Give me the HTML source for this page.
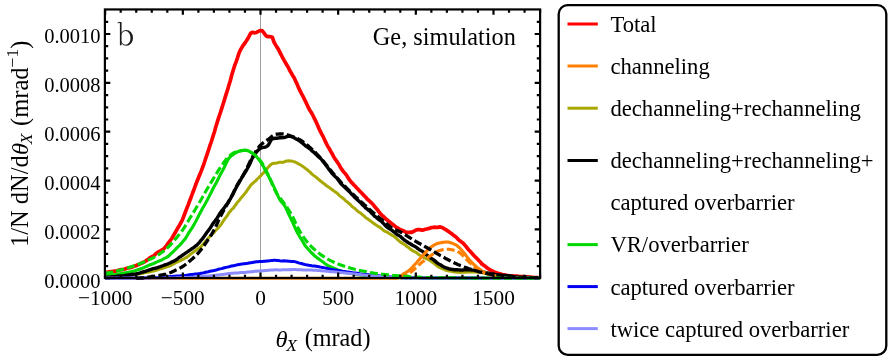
<!DOCTYPE html>
<html><head><meta charset="utf-8"><title>chart</title>
<style>html,body{margin:0;padding:0;background:#fff;overflow:hidden;}svg{display:block;will-change:transform;-webkit-font-smoothing:antialiased;}text{font-family:"Liberation Serif",serif;}</style></head>
<body>
<svg width="891" height="361" viewBox="0 0 891 361">
<rect width="891" height="361" fill="#fff"/>
<defs><clipPath id="c"><rect x="104" y="9" width="437" height="271.5"/></clipPath></defs>
<line x1="260.5" y1="9.45" x2="260.5" y2="278.0" stroke="#888" stroke-width="0.8"/>
<g clip-path="url(#c)" fill="none" stroke-linejoin="round" stroke-linecap="butt">
<path d="M105.2,272.6 L106.6,272.4 L108.1,272.0 L109.5,271.8 L111.0,271.6 L112.4,271.5 L113.9,271.2 L115.4,271.1 L116.8,270.8 L118.3,270.4 L119.7,269.9 L121.2,269.7 L122.6,269.6 L124.1,269.3 L125.5,268.8 L127.0,268.2 L128.4,267.9 L129.9,267.7 L131.4,267.3 L132.8,266.8 L134.3,266.1 L135.7,265.8 L137.2,265.0 L138.6,264.5 L140.1,263.9 L141.5,263.3 L143.0,262.5 L144.4,261.8 L145.9,260.9 L147.4,259.9 L148.8,258.7 L150.3,257.6 L151.7,256.8 L153.2,256.1 L154.6,255.0 L156.1,253.5 L157.5,252.5 L159.0,251.5 L160.4,251.1 L161.9,249.9 L163.4,249.2 L164.8,247.7 L166.3,245.8 L167.7,243.9 L169.2,241.9 L170.6,240.0 L172.1,238.0 L173.5,235.5 L175.0,233.1 L176.4,230.4 L177.9,227.8 L179.4,225.4 L180.8,222.8 L182.3,220.1 L183.7,216.5 L185.2,212.5 L186.6,208.8 L188.1,205.1 L189.5,201.3 L191.0,197.5 L192.4,193.5 L193.9,189.8 L195.4,185.5 L196.8,181.8 L198.3,178.2 L199.7,174.7 L201.2,171.1 L202.6,167.3 L204.1,163.3 L205.5,159.0 L207.0,154.6 L208.4,150.4 L209.9,145.7 L211.4,141.5 L212.8,136.9 L214.3,132.3 L215.7,127.3 L217.2,122.4 L218.6,117.9 L220.1,113.5 L221.5,109.1 L223.0,104.5 L224.4,99.9 L225.9,94.9 L227.4,90.4 L228.8,85.5 L230.3,80.8 L231.7,75.3 L233.2,70.3 L234.6,65.7 L236.1,61.8 L237.5,57.8 L239.0,53.1 L240.4,50.0 L241.9,47.5 L243.4,45.1 L244.8,43.1 L246.3,41.0 L247.7,38.8 L249.2,36.0 L250.6,33.3 L252.1,32.4 L253.5,32.6 L255.0,32.8 L256.4,32.5 L257.9,31.6 L259.4,30.9 L260.8,30.5 L262.3,30.9 L263.7,32.6 L265.2,34.7 L266.6,36.3 L268.1,36.7 L269.5,36.5 L271.0,36.9 L272.4,37.3 L273.9,41.8 L275.4,44.6 L276.8,46.9 L278.3,49.1 L279.7,51.9 L281.2,54.8 L282.6,57.7 L284.1,60.4 L285.5,62.7 L287.0,65.2 L288.4,67.6 L289.9,70.8 L291.4,73.2 L292.8,75.8 L294.3,78.1 L295.7,81.2 L297.2,84.4 L298.6,87.9 L300.1,90.9 L301.5,93.7 L303.0,96.3 L304.4,99.2 L305.9,102.2 L307.4,105.5 L308.8,108.5 L310.3,111.0 L311.7,113.1 L313.2,116.0 L314.6,118.9 L316.1,121.9 L317.5,125.1 L319.0,128.7 L320.5,131.7 L321.9,134.4 L323.4,137.1 L324.8,140.4 L326.3,143.4 L327.7,146.3 L329.2,148.5 L330.6,151.1 L332.1,153.7 L333.5,156.4 L335.0,158.9 L336.5,160.9 L337.9,163.0 L339.4,165.3 L340.8,168.0 L342.3,170.1 L343.7,172.0 L345.2,173.5 L346.6,175.4 L348.1,177.9 L349.5,179.9 L351.0,181.9 L352.5,183.3 L353.9,185.0 L355.4,186.4 L356.8,188.0 L358.3,189.5 L359.7,191.1 L361.2,192.5 L362.6,194.0 L364.1,195.7 L365.5,197.0 L367.0,198.8 L368.5,200.2 L369.9,201.4 L371.4,202.8 L372.8,204.2 L374.3,206.1 L375.7,207.8 L377.2,209.4 L378.6,211.4 L380.1,213.2 L381.5,214.7 L383.0,216.2 L384.5,217.4 L385.9,219.1 L387.4,220.1 L388.8,221.3 L390.3,222.5 L391.7,223.6 L393.2,224.9 L394.6,225.8 L396.1,227.1 L397.5,227.8 L399.0,229.0 L400.5,229.6 L401.9,230.3 L403.4,230.8 L404.8,231.5 L406.3,232.5 L407.7,232.4 L409.2,232.5 L410.6,232.1 L412.1,232.3 L413.5,231.4 L415.0,230.6 L416.5,229.8 L417.9,229.7 L419.4,229.7 L420.8,229.9 L422.3,230.1 L423.7,229.9 L425.2,229.3 L426.6,229.0 L428.1,228.6 L429.5,228.4 L431.0,227.7 L432.5,227.5 L433.9,227.2 L435.4,227.4 L436.8,227.3 L438.3,227.3 L439.7,226.9 L441.2,227.3 L442.6,227.8 L444.1,228.8 L445.5,229.4 L447.0,230.5 L448.5,231.3 L449.9,232.5 L451.4,233.5 L452.8,234.7 L454.3,235.7 L455.7,236.7 L457.2,238.2 L458.6,239.8 L460.1,240.9 L461.5,242.0 L463.0,243.0 L464.5,244.8 L465.9,246.2 L467.4,248.3 L468.8,250.0 L470.3,251.4 L471.7,253.1 L473.2,254.7 L474.6,256.2 L476.1,257.7 L477.5,259.0 L479.0,260.7 L480.5,262.2 L481.9,264.0 L483.4,265.1 L484.8,266.1 L486.3,267.2 L487.7,268.3 L489.2,269.3 L490.6,270.1 L492.1,270.9 L493.5,271.7 L495.0,272.4 L496.5,272.8 L497.9,273.4 L499.4,273.7 L500.8,274.1 L502.3,274.5 L503.7,274.8 L505.2,275.2 L506.6,275.4 L508.1,275.7 L509.5,275.8 L511.0,275.9 L512.5,276.0 L513.9,276.0 L515.4,276.0 L516.8,276.1 L518.3,276.3 L519.7,276.5 L521.2,276.6 L522.6,276.7 L524.1,276.7 L525.5,276.8 L527.0,276.9 L528.5,277.1 L529.9,277.1 L531.4,277.3 L532.8,277.4 L534.3,277.5 L535.7,277.5 L537.2,277.6 L538.6,277.6 L540.1,277.7" stroke="#ff0000" stroke-width="3.7"/>
<path d="M105.2,277.7 L106.6,277.5 L108.1,277.5 L109.5,277.5 L111.0,277.4 L112.4,277.2 L113.9,277.0 L115.4,276.8 L116.8,276.8 L118.3,276.6 L119.7,276.4 L121.2,276.2 L122.6,276.2 L124.1,276.0 L125.5,275.9 L127.0,275.8 L128.4,275.6 L129.9,275.4 L131.4,275.3 L132.8,275.0 L134.3,274.8 L135.7,274.5 L137.2,274.3 L138.6,274.1 L140.1,273.9 L141.5,273.6 L143.0,273.2 L144.4,272.9 L145.9,272.6 L147.4,272.3 L148.8,272.0 L150.3,271.8 L151.7,271.4 L153.2,271.1 L154.6,270.8 L156.1,270.4 L157.5,269.9 L159.0,269.4 L160.4,268.9 L161.9,268.5 L163.4,268.0 L164.8,267.5 L166.3,267.1 L167.7,266.6 L169.2,266.2 L170.6,265.6 L172.1,264.8 L173.5,264.0 L175.0,263.1 L176.4,262.3 L177.9,261.8 L179.4,261.0 L180.8,260.6 L182.3,259.5 L183.7,259.1 L185.2,257.9 L186.6,257.5 L188.1,256.2 L189.5,255.1 L191.0,253.9 L192.4,252.9 L193.9,251.8 L195.4,250.6 L196.8,249.5 L198.3,248.6 L199.7,247.6 L201.2,246.3 L202.6,244.7 L204.1,243.1 L205.5,241.4 L207.0,239.8 L208.4,238.0 L209.9,236.5 L211.4,235.1 L212.8,233.6 L214.3,232.2 L215.7,230.4 L217.2,229.0 L218.6,227.4 L220.1,225.8 L221.5,223.8 L223.0,221.5 L224.4,219.4 L225.9,217.4 L227.4,215.5 L228.8,213.0 L230.3,211.3 L231.7,209.4 L233.2,208.3 L234.6,206.2 L236.1,204.3 L237.5,202.2 L239.0,200.7 L240.4,198.8 L241.9,197.0 L243.4,195.3 L244.8,193.6 L246.3,191.7 L247.7,189.5 L249.2,187.5 L250.6,185.4 L252.1,183.8 L253.5,182.6 L255.0,181.4 L256.4,179.9 L257.9,178.5 L259.4,177.0 L260.8,175.6 L262.3,174.0 L263.7,172.7 L265.2,171.0 L266.6,169.1 L268.1,167.5 L269.5,165.8 L271.0,164.5 L272.4,163.5 L273.9,163.3 L275.4,163.2 L276.8,163.0 L278.3,162.6 L279.7,162.3 L281.2,162.3 L282.6,162.4 L284.1,162.0 L285.5,161.3 L287.0,160.9 L288.4,160.7 L289.9,161.0 L291.4,161.0 L292.8,161.4 L294.3,161.7 L295.7,162.3 L297.2,163.1 L298.6,163.9 L300.1,164.7 L301.5,165.5 L303.0,166.7 L304.4,167.5 L305.9,168.9 L307.4,169.7 L308.8,171.1 L310.3,172.3 L311.7,173.9 L313.2,175.1 L314.6,176.1 L316.1,177.2 L317.5,178.5 L319.0,179.7 L320.5,181.0 L321.9,182.0 L323.4,183.3 L324.8,184.2 L326.3,185.6 L327.7,186.4 L329.2,187.6 L330.6,188.5 L332.1,189.7 L333.5,190.8 L335.0,191.7 L336.5,192.8 L337.9,193.9 L339.4,195.6 L340.8,196.6 L342.3,197.7 L343.7,198.7 L345.2,200.3 L346.6,201.6 L348.1,202.6 L349.5,204.0 L351.0,205.2 L352.5,206.9 L353.9,207.9 L355.4,209.0 L356.8,210.3 L358.3,211.6 L359.7,212.6 L361.2,213.6 L362.6,214.8 L364.1,216.0 L365.5,217.4 L367.0,218.4 L368.5,219.5 L369.9,220.5 L371.4,221.6 L372.8,222.7 L374.3,223.8 L375.7,224.8 L377.2,225.8 L378.6,226.6 L380.1,227.4 L381.5,228.6 L383.0,230.0 L384.5,231.1 L385.9,231.7 L387.4,232.3 L388.8,233.3 L390.3,234.2 L391.7,235.1 L393.2,235.8 L394.6,236.8 L396.1,238.0 L397.5,239.5 L399.0,240.8 L400.5,242.1 L401.9,242.9 L403.4,243.9 L404.8,244.7 L406.3,246.0 L407.7,247.1 L409.2,248.1 L410.6,249.2 L412.1,250.4 L413.5,251.2 L415.0,251.8 L416.5,252.7 L417.9,253.9 L419.4,255.0 L420.8,255.8 L422.3,256.5 L423.7,257.4 L425.2,258.1 L426.6,258.8 L428.1,259.4 L429.5,260.2 L431.0,261.2 L432.5,262.3 L433.9,263.4 L435.4,264.5 L436.8,265.7 L438.3,266.7 L439.7,267.6 L441.2,268.1 L442.6,268.8 L444.1,269.4 L445.5,270.1 L447.0,270.5 L448.5,270.9 L449.9,271.1 L451.4,271.4 L452.8,271.6 L454.3,272.0 L455.7,272.1 L457.2,272.3 L458.6,272.3 L460.1,272.4 L461.5,272.3 L463.0,272.3 L464.5,272.2 L465.9,272.2 L467.4,272.1 L468.8,272.0 L470.3,272.0 L471.7,272.0 L473.2,272.0 L474.6,272.0 L476.1,272.1 L477.5,272.2 L479.0,272.3 L480.5,272.4 L481.9,272.7 L483.4,273.0 L484.8,273.3 L486.3,273.6 L487.7,274.0 L489.2,274.4 L490.6,274.9 L492.1,275.2 L493.5,275.5 L495.0,275.7 L496.5,275.9 L497.9,276.1 L499.4,276.2 L500.8,276.4 L502.3,276.6 L503.7,276.6 L505.2,276.8 L506.6,276.8 L508.1,276.9 L509.5,276.9 L511.0,277.1 L512.5,277.2 L513.9,277.2 L515.4,277.2 L516.8,277.3 L518.3,277.3 L519.7,277.5 L521.2,277.4 L522.6,277.4 L524.1,277.4 L525.5,277.5 L527.0,277.5 L528.5,277.6 L529.9,277.6 L531.4,277.7 L532.8,277.8 L534.3,277.7 L535.7,277.6 L537.2,277.6 L538.6,277.6 L540.1,277.6" stroke="#a8a800" stroke-width="3.0"/>
<path d="M105.2,275.4 L106.6,275.3 L108.1,275.2 L109.5,275.1 L111.0,274.9 L112.4,274.8 L113.9,274.7 L115.4,274.5 L116.8,274.3 L118.3,274.0 L119.7,273.8 L121.2,273.6 L122.6,273.4 L124.1,273.1 L125.5,272.9 L127.0,272.5 L128.4,272.2 L129.9,271.9 L131.4,271.6 L132.8,271.2 L134.3,270.9 L135.7,270.5 L137.2,270.0 L138.6,269.6 L140.1,269.0 L141.5,268.6 L143.0,268.0 L144.4,267.4 L145.9,266.7 L147.4,266.0 L148.8,265.3 L150.3,264.7 L151.7,264.3 L153.2,263.7 L154.6,263.0 L156.1,262.3 L157.5,261.7 L159.0,261.0 L160.4,260.5 L161.9,259.8 L163.4,259.0 L164.8,258.1 L166.3,257.6 L167.7,256.6 L169.2,255.6 L170.6,254.0 L172.1,252.7 L173.5,251.3 L175.0,249.9 L176.4,248.3 L177.9,246.8 L179.4,245.6 L180.8,243.9 L182.3,242.3 L183.7,240.5 L185.2,238.9 L186.6,236.6 L188.1,233.9 L189.5,231.6 L191.0,229.5 L192.4,227.3 L193.9,224.7 L195.4,222.1 L196.8,219.4 L198.3,216.6 L199.7,213.7 L201.2,211.0 L202.6,208.3 L204.1,205.8 L205.5,203.2 L207.0,200.6 L208.4,197.9 L209.9,194.9 L211.4,192.0 L212.8,189.0 L214.3,186.3 L215.7,183.7 L217.2,181.0 L218.6,178.2 L220.1,175.0 L221.5,172.4 L223.0,169.8 L224.4,167.0 L225.9,163.8 L227.4,160.8 L228.8,158.4 L230.3,156.8 L231.7,155.5 L233.2,154.4 L234.6,153.4 L236.1,152.6 L237.5,151.8 L239.0,151.2 L240.4,150.9 L241.9,150.7 L243.4,150.5 L244.8,150.2 L246.3,150.3 L247.7,150.7 L249.2,151.3 L250.6,152.1 L252.1,153.0 L253.5,153.9 L255.0,155.1 L256.4,156.6 L257.9,158.2 L259.4,160.2 L260.8,162.1 L262.3,164.6 L263.7,167.1 L265.2,169.9 L266.6,172.6 L268.1,175.4 L269.5,178.0 L271.0,180.9 L272.4,183.7 L273.9,186.9 L275.4,190.1 L276.8,193.3 L278.3,196.6 L279.7,199.5 L281.2,201.7 L282.6,203.1 L284.1,205.0 L285.5,207.3 L287.0,210.4 L288.4,213.5 L289.9,216.6 L291.4,219.7 L292.8,222.6 L294.3,226.2 L295.7,229.2 L297.2,232.2 L298.6,234.8 L300.1,237.3 L301.5,239.5 L303.0,242.0 L304.4,244.5 L305.9,246.6 L307.4,248.2 L308.8,249.8 L310.3,251.5 L311.7,253.0 L313.2,254.4 L314.6,255.9 L316.1,256.9 L317.5,258.1 L319.0,259.1 L320.5,260.3 L321.9,261.3 L323.4,262.3 L324.8,263.4 L326.3,264.5 L327.7,265.3 L329.2,266.1 L330.6,266.7 L332.1,267.4 L333.5,268.0 L335.0,268.7 L336.5,269.2 L337.9,269.9 L339.4,270.4 L340.8,271.0 L342.3,271.3 L343.7,271.7 L345.2,272.0 L346.6,272.4 L348.1,272.8 L349.5,273.1 L351.0,273.5 L352.5,273.8 L353.9,274.0 L355.4,274.2 L356.8,274.4 L358.3,274.6 L359.7,274.9 L361.2,275.1 L362.6,275.3 L364.1,275.4 L365.5,275.5 L367.0,275.7 L368.5,275.8 L369.9,276.0 L371.4,276.1 L372.8,276.2 L374.3,276.3 L375.7,276.4 L377.2,276.5 L378.6,276.6 L380.1,276.7 L381.5,276.8 L383.0,276.9 L384.5,277.0 L385.9,277.1 L387.4,277.1 L388.8,277.2 L390.3,277.3 L391.7,277.5 L393.2,277.6 L394.6,277.7 L396.1,277.6 L397.5,277.7 L399.0,277.7 L400.5,277.7 L401.9,277.7 L403.4,277.8 L404.8,277.8 L406.3,277.7 L407.7,277.7 L409.2,277.8 L410.6,277.9 L412.1,277.8 L413.5,277.8 L415.0,277.7 L416.5,277.8 L417.9,277.9 L419.4,278.0 L420.8,278.0 L422.3,278.0 L423.7,278.1 L425.2,278.0 L426.6,278.0 L428.1,278.0 L429.5,278.0 L431.0,278.0 L432.5,278.0 L433.9,278.0 L435.4,278.0 L436.8,278.0 L438.3,278.0 L439.7,278.0 L441.2,278.0 L442.6,278.0 L444.1,278.0 L445.5,278.0 L447.0,278.0 L448.5,278.0 L449.9,278.0 L451.4,278.0 L452.8,278.1 L454.3,278.1 L455.7,278.1 L457.2,278.1 L458.6,278.1 L460.1,278.1 L461.5,278.1 L463.0,278.1 L464.5,278.1 L465.9,278.1 L467.4,278.0 L468.8,278.1 L470.3,278.1 L471.7,278.1 L473.2,278.1 L474.6,278.1 L476.1,278.0 L477.5,278.0 L479.0,278.1 L480.5,278.1 L481.9,278.2 L483.4,278.2 L484.8,278.2 L486.3,278.2 L487.7,278.2 L489.2,278.2 L490.6,278.2 L492.1,278.2 L493.5,278.1 L495.0,278.2 L496.5,278.2 L497.9,278.2 L499.4,278.2 L500.8,278.2 L502.3,278.2 L503.7,278.2 L505.2,278.2 L506.6,278.2 L508.1,278.2 L509.5,278.2 L511.0,278.2 L512.5,278.1 L513.9,278.2 L515.4,278.2 L516.8,278.2 L518.3,278.2 L519.7,278.1 L521.2,278.2 L522.6,278.2 L524.1,278.2 L525.5,278.2 L527.0,278.2 L528.5,278.2 L529.9,278.2 L531.4,278.2 L532.8,278.2 L534.3,278.2 L535.7,278.2 L537.2,278.2 L538.6,278.2 L540.1,278.2" stroke="#00d800" stroke-width="3.1"/>
<path d="M105.2,277.6 L106.6,277.5 L108.1,277.3 L109.5,277.2 L111.0,277.0 L112.4,276.8 L113.9,276.6 L115.4,276.6 L116.8,276.3 L118.3,276.2 L119.7,276.0 L121.2,275.9 L122.6,275.9 L124.1,275.7 L125.5,275.4 L127.0,275.2 L128.4,275.0 L129.9,274.8 L131.4,274.5 L132.8,274.3 L134.3,274.1 L135.7,273.9 L137.2,273.6 L138.6,273.3 L140.1,272.9 L141.5,272.4 L143.0,272.0 L144.4,271.6 L145.9,271.2 L147.4,270.7 L148.8,270.2 L150.3,269.7 L151.7,269.1 L153.2,268.6 L154.6,268.3 L156.1,268.0 L157.5,267.6 L159.0,267.1 L160.4,266.6 L161.9,266.0 L163.4,265.5 L164.8,264.9 L166.3,264.5 L167.7,264.0 L169.2,263.3 L170.6,262.7 L172.1,261.8 L173.5,261.4 L175.0,260.6 L176.4,259.6 L177.9,258.5 L179.4,257.2 L180.8,256.4 L182.3,255.3 L183.7,254.3 L185.2,253.3 L186.6,252.4 L188.1,251.4 L189.5,250.4 L191.0,249.4 L192.4,248.3 L193.9,247.3 L195.4,246.2 L196.8,245.2 L198.3,243.5 L199.7,242.1 L201.2,240.1 L202.6,238.6 L204.1,236.5 L205.5,234.4 L207.0,232.3 L208.4,230.4 L209.9,228.4 L211.4,226.2 L212.8,223.8 L214.3,221.9 L215.7,219.9 L217.2,217.9 L218.6,215.6 L220.1,213.0 L221.5,211.2 L223.0,209.4 L224.4,207.6 L225.9,205.4 L227.4,203.5 L228.8,201.1 L230.3,199.1 L231.7,196.3 L233.2,193.9 L234.6,190.6 L236.1,187.8 L237.5,185.2 L239.0,182.8 L240.4,180.2 L241.9,177.5 L243.4,175.2 L244.8,172.9 L246.3,170.5 L247.7,168.0 L249.2,165.2 L250.6,162.2 L252.1,158.7 L253.5,156.4 L255.0,154.1 L256.4,152.2 L257.9,150.4 L259.4,149.0 L260.8,148.1 L262.3,147.7 L263.7,147.4 L265.2,147.1 L266.6,146.5 L268.1,145.3 L269.5,143.0 L271.0,140.2 L272.4,138.7 L273.9,138.5 L275.4,138.1 L276.8,138.2 L278.3,138.0 L279.7,137.8 L281.2,137.8 L282.6,137.5 L284.1,137.6 L285.5,137.1 L287.0,136.5 L288.4,136.3 L289.9,136.3 L291.4,136.6 L292.8,137.0 L294.3,137.9 L295.7,138.8 L297.2,139.5 L298.6,140.3 L300.1,141.2 L301.5,142.5 L303.0,143.6 L304.4,144.8 L305.9,146.1 L307.4,147.0 L308.8,148.2 L310.3,149.2 L311.7,150.7 L313.2,151.8 L314.6,153.0 L316.1,154.4 L317.5,155.9 L319.0,157.1 L320.5,158.4 L321.9,160.0 L323.4,162.0 L324.8,163.8 L326.3,165.7 L327.7,167.5 L329.2,169.7 L330.6,171.5 L332.1,173.5 L333.5,174.8 L335.0,176.5 L336.5,177.7 L337.9,179.5 L339.4,181.5 L340.8,183.5 L342.3,185.0 L343.7,186.3 L345.2,187.7 L346.6,189.1 L348.1,190.6 L349.5,191.7 L351.0,193.5 L352.5,194.9 L353.9,196.5 L355.4,197.9 L356.8,199.3 L358.3,200.6 L359.7,201.9 L361.2,203.2 L362.6,205.0 L364.1,206.2 L365.5,207.8 L367.0,208.8 L368.5,210.3 L369.9,211.1 L371.4,212.9 L372.8,214.2 L374.3,216.0 L375.7,216.9 L377.2,218.4 L378.6,219.3 L380.1,220.4 L381.5,221.5 L383.0,223.0 L384.5,224.7 L385.9,226.2 L387.4,227.4 L388.8,228.5 L390.3,229.2 L391.7,230.2 L393.2,231.4 L394.6,232.5 L396.1,233.8 L397.5,234.7 L399.0,235.6 L400.5,236.5 L401.9,237.9 L403.4,239.2 L404.8,240.4 L406.3,241.4 L407.7,242.3 L409.2,243.3 L410.6,244.0 L412.1,245.0 L413.5,245.8 L415.0,246.5 L416.5,247.4 L417.9,248.7 L419.4,249.7 L420.8,250.5 L422.3,251.2 L423.7,252.4 L425.2,254.0 L426.6,254.9 L428.1,256.1 L429.5,257.0 L431.0,258.2 L432.5,259.1 L433.9,260.1 L435.4,261.4 L436.8,262.6 L438.3,263.7 L439.7,264.4 L441.2,265.3 L442.6,266.2 L444.1,267.1 L445.5,267.7 L447.0,268.1 L448.5,268.6 L449.9,269.0 L451.4,269.4 L452.8,269.5 L454.3,269.7 L455.7,269.7 L457.2,269.8 L458.6,269.9 L460.1,270.0 L461.5,270.1 L463.0,270.0 L464.5,269.9 L465.9,269.8 L467.4,269.8 L468.8,269.9 L470.3,269.8 L471.7,270.0 L473.2,270.1 L474.6,270.2 L476.1,270.4 L477.5,270.5 L479.0,270.9 L480.5,271.2 L481.9,271.6 L483.4,272.0 L484.8,272.3 L486.3,272.7 L487.7,273.0 L489.2,273.3 L490.6,273.7 L492.1,273.9 L493.5,274.1 L495.0,274.4 L496.5,274.6 L497.9,274.9 L499.4,275.0 L500.8,275.1 L502.3,275.3 L503.7,275.4 L505.2,275.5 L506.6,275.6 L508.1,275.8 L509.5,276.0 L511.0,276.1 L512.5,276.3 L513.9,276.6 L515.4,276.9 L516.8,276.9 L518.3,277.0 L519.7,277.1 L521.2,277.3 L522.6,277.3 L524.1,277.3 L525.5,277.3 L527.0,277.4 L528.5,277.5 L529.9,277.5 L531.4,277.6 L532.8,277.6 L534.3,277.7 L535.7,277.7 L537.2,277.6 L538.6,277.6 L540.1,277.7" stroke="#000000" stroke-width="3.4"/>
<path d="M105.2,278.3 L106.6,278.3 L108.1,278.3 L109.5,278.3 L111.0,278.3 L112.4,278.3 L113.9,278.3 L115.4,278.3 L116.8,278.3 L118.3,278.3 L119.7,278.3 L121.2,278.3 L122.6,278.3 L124.1,278.3 L125.5,278.3 L127.0,278.3 L128.4,278.3 L129.9,278.3 L131.4,278.3 L132.8,278.3 L134.3,278.3 L135.7,278.3 L137.2,278.3 L138.6,278.3 L140.1,278.3 L141.5,278.3 L143.0,278.3 L144.4,278.3 L145.9,278.3 L147.4,278.3 L148.8,278.3 L150.3,278.3 L151.7,278.3 L153.2,278.3 L154.6,278.3 L156.1,278.3 L157.5,278.3 L159.0,278.3 L160.4,278.3 L161.9,278.3 L163.4,278.3 L164.8,278.3 L166.3,278.3 L167.7,278.3 L169.2,278.3 L170.6,278.3 L172.1,278.3 L173.5,278.3 L175.0,278.3 L176.4,278.3 L177.9,278.3 L179.4,278.3 L180.8,278.3 L182.3,278.3 L183.7,278.3 L185.2,278.3 L186.6,278.3 L188.1,278.3 L189.5,278.3 L191.0,278.3 L192.4,278.3 L193.9,278.3 L195.4,278.3 L196.8,278.3 L198.3,278.3 L199.7,278.3 L201.2,278.3 L202.6,278.3 L204.1,278.3 L205.5,278.3 L207.0,278.3 L208.4,278.3 L209.9,278.3 L211.4,278.3 L212.8,278.3 L214.3,278.3 L215.7,278.3 L217.2,278.3 L218.6,278.3 L220.1,278.3 L221.5,278.3 L223.0,278.3 L224.4,278.3 L225.9,278.3 L227.4,278.3 L228.8,278.3 L230.3,278.3 L231.7,278.3 L233.2,278.3 L234.6,278.3 L236.1,278.3 L237.5,278.3 L239.0,278.3 L240.4,278.3 L241.9,278.3 L243.4,278.3 L244.8,278.3 L246.3,278.3 L247.7,278.3 L249.2,278.3 L250.6,278.3 L252.1,278.3 L253.5,278.3 L255.0,278.3 L256.4,278.3 L257.9,278.3 L259.4,278.3 L260.8,278.3 L262.3,278.3 L263.7,278.3 L265.2,278.3 L266.6,278.3 L268.1,278.3 L269.5,278.3 L271.0,278.3 L272.4,278.3 L273.9,278.3 L275.4,278.3 L276.8,278.3 L278.3,278.3 L279.7,278.3 L281.2,278.3 L282.6,278.3 L284.1,278.3 L285.5,278.3 L287.0,278.3 L288.4,278.3 L289.9,278.3 L291.4,278.3 L292.8,278.3 L294.3,278.3 L295.7,278.3 L297.2,278.3 L298.6,278.3 L300.1,278.3 L301.5,278.3 L303.0,278.3 L304.4,278.3 L305.9,278.3 L307.4,278.3 L308.8,278.3 L310.3,278.3 L311.7,278.3 L313.2,278.3 L314.6,278.3 L316.1,278.3 L317.5,278.3 L319.0,278.3 L320.5,278.3 L321.9,278.3 L323.4,278.3 L324.8,278.3 L326.3,278.3 L327.7,278.3 L329.2,278.3 L330.6,278.3 L332.1,278.3 L333.5,278.3 L335.0,278.3 L336.5,278.3 L337.9,278.3 L339.4,278.3 L340.8,278.3 L342.3,278.3 L343.7,278.3 L345.2,278.3 L346.6,278.3 L348.1,278.3 L349.5,278.3 L351.0,278.3 L352.5,278.3 L353.9,278.3 L355.4,278.3 L356.8,278.3 L358.3,278.3 L359.7,278.3 L361.2,278.3 L362.6,278.3 L364.1,278.3 L365.5,278.3 L367.0,278.3 L368.5,278.3 L369.9,278.3 L371.4,278.3 L372.8,278.3 L374.3,278.3 L375.7,278.3 L377.2,278.3 L378.6,278.3 L380.1,278.3 L381.5,278.3 L383.0,278.3 L384.5,278.3 L385.9,278.3 L387.4,278.3 L388.8,278.3 L390.3,278.3 L391.7,278.3 L393.2,278.3 L394.6,278.3 L396.1,278.3 L397.5,278.0 L399.0,277.4 L400.5,276.5 L401.9,275.1 L403.4,273.9 L404.8,273.1 L406.3,272.3 L407.7,271.4 L409.2,270.3 L410.6,269.0 L412.1,267.5 L413.5,265.9 L415.0,264.3 L416.5,262.7 L417.9,261.1 L419.4,259.4 L420.8,257.7 L422.3,256.1 L423.7,254.5 L425.2,252.9 L426.6,251.2 L428.1,249.7 L429.5,248.2 L431.0,247.0 L432.5,246.1 L433.9,245.2 L435.4,244.4 L436.8,243.7 L438.3,243.2 L439.7,242.9 L441.2,242.6 L442.6,242.4 L444.1,242.2 L445.5,242.0 L447.0,242.0 L448.5,242.1 L449.9,242.5 L451.4,242.9 L452.8,243.5 L454.3,244.1 L455.7,244.8 L457.2,245.8 L458.6,247.0 L460.1,248.3 L461.5,249.9 L463.0,251.7 L464.5,253.5 L465.9,255.5 L467.4,257.4 L468.8,259.2 L470.3,260.9 L471.7,262.4 L473.2,263.8 L474.6,265.2 L476.1,266.5 L477.5,267.7 L479.0,268.8 L480.5,269.8 L481.9,270.9 L483.4,271.8 L484.8,272.6 L486.3,273.2 L487.7,273.8 L489.2,274.3 L490.6,274.8 L492.1,275.2 L493.5,275.6 L495.0,276.0 L496.5,276.3 L497.9,276.8 L499.4,277.3 L500.8,277.7 L502.3,278.1 L503.7,278.3 L505.2,278.3 L506.6,278.3 L508.1,278.3 L509.5,278.3 L511.0,278.3 L512.5,278.3 L513.9,278.3 L515.4,278.3 L516.8,278.3 L518.3,278.3 L519.7,278.3 L521.2,278.3 L522.6,278.3 L524.1,278.3 L525.5,278.3 L527.0,278.3 L528.5,278.3 L529.9,278.3 L531.4,278.3 L532.8,278.3 L534.3,278.3 L535.7,278.3 L537.2,278.3 L538.6,278.3 L540.1,278.3" stroke="#ff8000" stroke-width="3.1"/>
<path d="M105.2,278.2 L106.6,278.2 L108.1,278.1 L109.5,278.2 L111.0,278.2 L112.4,278.2 L113.9,278.2 L115.4,278.1 L116.8,278.1 L118.3,278.1 L119.7,278.2 L121.2,278.1 L122.6,278.1 L124.1,278.1 L125.5,278.1 L127.0,278.1 L128.4,278.1 L129.9,278.1 L131.4,278.1 L132.8,278.0 L134.3,278.0 L135.7,278.0 L137.2,278.0 L138.6,277.9 L140.1,277.9 L141.5,277.9 L143.0,277.9 L144.4,277.8 L145.9,277.8 L147.4,277.8 L148.8,277.8 L150.3,277.7 L151.7,277.6 L153.2,277.5 L154.6,277.5 L156.1,277.5 L157.5,277.5 L159.0,277.5 L160.4,277.4 L161.9,277.4 L163.4,277.3 L164.8,277.2 L166.3,277.1 L167.7,277.0 L169.2,276.8 L170.6,276.6 L172.1,276.5 L173.5,276.3 L175.0,276.2 L176.4,276.1 L177.9,276.0 L179.4,275.9 L180.8,275.8 L182.3,275.7 L183.7,275.6 L185.2,275.5 L186.6,275.3 L188.1,275.0 L189.5,274.8 L191.0,274.6 L192.4,274.4 L193.9,274.2 L195.4,274.0 L196.8,273.9 L198.3,273.7 L199.7,273.5 L201.2,273.2 L202.6,273.0 L204.1,272.7 L205.5,272.3 L207.0,272.0 L208.4,271.7 L209.9,271.3 L211.4,271.1 L212.8,270.7 L214.3,270.5 L215.7,270.1 L217.2,269.7 L218.6,269.2 L220.1,268.9 L221.5,268.6 L223.0,268.2 L224.4,267.8 L225.9,267.4 L227.4,267.1 L228.8,266.8 L230.3,266.3 L231.7,266.0 L233.2,265.7 L234.6,265.5 L236.1,265.1 L237.5,264.8 L239.0,264.5 L240.4,264.3 L241.9,264.1 L243.4,263.8 L244.8,263.7 L246.3,263.5 L247.7,263.3 L249.2,263.0 L250.6,262.8 L252.1,262.6 L253.5,262.3 L255.0,262.0 L256.4,261.8 L257.9,261.8 L259.4,261.6 L260.8,261.5 L262.3,261.4 L263.7,261.3 L265.2,261.2 L266.6,261.0 L268.1,260.9 L269.5,260.7 L271.0,260.6 L272.4,260.4 L273.9,260.3 L275.4,260.2 L276.8,260.4 L278.3,260.6 L279.7,260.8 L281.2,260.9 L282.6,260.9 L284.1,260.8 L285.5,261.0 L287.0,261.0 L288.4,261.2 L289.9,261.2 L291.4,261.4 L292.8,261.4 L294.3,261.6 L295.7,261.9 L297.2,262.4 L298.6,262.9 L300.1,263.3 L301.5,263.5 L303.0,264.0 L304.4,264.4 L305.9,264.8 L307.4,265.0 L308.8,265.3 L310.3,265.5 L311.7,265.8 L313.2,265.9 L314.6,266.1 L316.1,266.3 L317.5,266.5 L319.0,266.8 L320.5,267.1 L321.9,267.4 L323.4,267.6 L324.8,267.9 L326.3,268.2 L327.7,268.5 L329.2,268.9 L330.6,269.2 L332.1,269.4 L333.5,269.7 L335.0,269.9 L336.5,270.2 L337.9,270.5 L339.4,270.7 L340.8,270.9 L342.3,271.2 L343.7,271.4 L345.2,271.6 L346.6,271.9 L348.1,272.1 L349.5,272.3 L351.0,272.5 L352.5,272.7 L353.9,272.9 L355.4,273.1 L356.8,273.3 L358.3,273.5 L359.7,273.8 L361.2,274.0 L362.6,274.2 L364.1,274.3 L365.5,274.5 L367.0,274.6 L368.5,274.8 L369.9,275.0 L371.4,275.2 L372.8,275.3 L374.3,275.5 L375.7,275.6 L377.2,275.7 L378.6,275.8 L380.1,276.0 L381.5,276.1 L383.0,276.2 L384.5,276.4 L385.9,276.5 L387.4,276.6 L388.8,276.8 L390.3,277.0 L391.7,277.1 L393.2,277.2 L394.6,277.3 L396.1,277.4 L397.5,277.5 L399.0,277.6 L400.5,277.6 L401.9,277.7 L403.4,277.8 L404.8,277.8 L406.3,277.9 L407.7,277.8 L409.2,277.8 L410.6,277.9 L412.1,277.8 L413.5,277.8 L415.0,277.8 L416.5,277.8 L417.9,277.8 L419.4,277.8 L420.8,277.9 L422.3,278.0 L423.7,278.0 L425.2,278.0 L426.6,278.0 L428.1,277.9 L429.5,278.0 L431.0,278.0 L432.5,278.0 L433.9,278.0 L435.4,278.0 L436.8,278.0 L438.3,278.0 L439.7,278.0 L441.2,278.0 L442.6,278.0 L444.1,278.1 L445.5,278.1 L447.0,278.1 L448.5,278.1 L449.9,278.1 L451.4,278.1 L452.8,278.1 L454.3,278.1 L455.7,278.1 L457.2,278.1 L458.6,278.1 L460.1,278.1 L461.5,278.1 L463.0,278.1 L464.5,278.1 L465.9,278.1 L467.4,278.1 L468.8,278.1 L470.3,278.1 L471.7,278.1 L473.2,278.2 L474.6,278.1 L476.1,278.1 L477.5,278.1 L479.0,278.1 L480.5,278.2 L481.9,278.1 L483.4,278.2 L484.8,278.2 L486.3,278.2 L487.7,278.2 L489.2,278.2 L490.6,278.3 L492.1,278.3 L493.5,278.2 L495.0,278.2 L496.5,278.2 L497.9,278.2 L499.4,278.2 L500.8,278.2 L502.3,278.2 L503.7,278.2 L505.2,278.2 L506.6,278.2 L508.1,278.2 L509.5,278.2 L511.0,278.2 L512.5,278.2 L513.9,278.3 L515.4,278.2 L516.8,278.2 L518.3,278.2 L519.7,278.2 L521.2,278.2 L522.6,278.2 L524.1,278.2 L525.5,278.2 L527.0,278.3 L528.5,278.2 L529.9,278.2 L531.4,278.2 L532.8,278.2 L534.3,278.2 L535.7,278.1 L537.2,278.2 L538.6,278.2 L540.1,278.2" stroke="#0000f0" stroke-width="3.0"/>
<path d="M105.2,278.2 L106.6,278.2 L108.1,278.2 L109.5,278.2 L111.0,278.2 L112.4,278.2 L113.9,278.2 L115.4,278.2 L116.8,278.2 L118.3,278.2 L119.7,278.2 L121.2,278.2 L122.6,278.2 L124.1,278.2 L125.5,278.2 L127.0,278.2 L128.4,278.2 L129.9,278.2 L131.4,278.2 L132.8,278.1 L134.3,278.1 L135.7,278.1 L137.2,278.1 L138.6,278.1 L140.1,278.1 L141.5,278.1 L143.0,278.1 L144.4,278.1 L145.9,278.1 L147.4,278.1 L148.8,278.1 L150.3,278.1 L151.7,278.1 L153.2,278.0 L154.6,278.0 L156.1,278.0 L157.5,278.0 L159.0,278.0 L160.4,278.0 L161.9,278.0 L163.4,278.0 L164.8,278.0 L166.3,278.0 L167.7,278.0 L169.2,278.0 L170.6,278.0 L172.1,277.9 L173.5,277.9 L175.0,277.9 L176.4,277.8 L177.9,277.8 L179.4,277.7 L180.8,277.6 L182.3,277.6 L183.7,277.6 L185.2,277.6 L186.6,277.6 L188.1,277.5 L189.5,277.4 L191.0,277.3 L192.4,277.2 L193.9,277.1 L195.4,276.9 L196.8,276.8 L198.3,276.7 L199.7,276.6 L201.2,276.4 L202.6,276.3 L204.1,276.2 L205.5,276.1 L207.0,276.0 L208.4,275.9 L209.9,275.8 L211.4,275.7 L212.8,275.6 L214.3,275.5 L215.7,275.3 L217.2,275.1 L218.6,275.0 L220.1,274.8 L221.5,274.6 L223.0,274.4 L224.4,274.2 L225.9,274.0 L227.4,273.8 L228.8,273.6 L230.3,273.4 L231.7,273.3 L233.2,273.2 L234.6,273.1 L236.1,273.0 L237.5,272.9 L239.0,272.8 L240.4,272.6 L241.9,272.5 L243.4,272.4 L244.8,272.4 L246.3,272.2 L247.7,272.1 L249.2,272.0 L250.6,271.8 L252.1,271.7 L253.5,271.5 L255.0,271.3 L256.4,271.2 L257.9,271.1 L259.4,271.0 L260.8,270.9 L262.3,270.8 L263.7,270.7 L265.2,270.5 L266.6,270.4 L268.1,270.3 L269.5,270.2 L271.0,270.1 L272.4,270.0 L273.9,269.9 L275.4,269.8 L276.8,269.8 L278.3,269.9 L279.7,269.9 L281.2,269.9 L282.6,269.8 L284.1,269.8 L285.5,269.8 L287.0,269.7 L288.4,269.7 L289.9,269.6 L291.4,269.7 L292.8,269.6 L294.3,269.6 L295.7,269.6 L297.2,269.7 L298.6,269.8 L300.1,269.8 L301.5,269.8 L303.0,269.9 L304.4,269.9 L305.9,270.0 L307.4,269.9 L308.8,270.0 L310.3,270.0 L311.7,270.1 L313.2,270.2 L314.6,270.2 L316.1,270.3 L317.5,270.4 L319.0,270.6 L320.5,270.7 L321.9,270.8 L323.4,271.0 L324.8,271.1 L326.3,271.2 L327.7,271.3 L329.2,271.5 L330.6,271.7 L332.1,271.7 L333.5,271.8 L335.0,272.0 L336.5,272.1 L337.9,272.2 L339.4,272.4 L340.8,272.5 L342.3,272.7 L343.7,272.8 L345.2,273.0 L346.6,273.2 L348.1,273.3 L349.5,273.4 L351.0,273.6 L352.5,273.7 L353.9,273.9 L355.4,274.1 L356.8,274.3 L358.3,274.4 L359.7,274.6 L361.2,274.8 L362.6,275.0 L364.1,275.1 L365.5,275.2 L367.0,275.3 L368.5,275.4 L369.9,275.6 L371.4,275.7 L372.8,275.8 L374.3,275.9 L375.7,276.0 L377.2,276.1 L378.6,276.2 L380.1,276.3 L381.5,276.4 L383.0,276.6 L384.5,276.7 L385.9,276.8 L387.4,276.9 L388.8,277.0 L390.3,277.2 L391.7,277.3 L393.2,277.4 L394.6,277.4 L396.1,277.5 L397.5,277.5 L399.0,277.6 L400.5,277.6 L401.9,277.7 L403.4,277.8 L404.8,277.8 L406.3,277.8 L407.7,277.8 L409.2,277.8 L410.6,277.9 L412.1,277.8 L413.5,277.8 L415.0,277.8 L416.5,277.8 L417.9,277.8 L419.4,277.8 L420.8,277.9 L422.3,278.0 L423.7,278.0 L425.2,278.0 L426.6,278.0 L428.1,278.0 L429.5,278.0 L431.0,278.0 L432.5,278.0 L433.9,278.0 L435.4,278.0 L436.8,278.0 L438.3,278.0 L439.7,278.0 L441.2,278.0 L442.6,278.0 L444.1,278.1 L445.5,278.1 L447.0,278.1 L448.5,278.1 L449.9,278.1 L451.4,278.1 L452.8,278.1 L454.3,278.1 L455.7,278.1 L457.2,278.1 L458.6,278.1 L460.1,278.1 L461.5,278.1 L463.0,278.1 L464.5,278.1 L465.9,278.1 L467.4,278.1 L468.8,278.1 L470.3,278.1 L471.7,278.1 L473.2,278.1 L474.6,278.1 L476.1,278.1 L477.5,278.1 L479.0,278.1 L480.5,278.1 L481.9,278.1 L483.4,278.2 L484.8,278.2 L486.3,278.2 L487.7,278.2 L489.2,278.2 L490.6,278.3 L492.1,278.3 L493.5,278.2 L495.0,278.2 L496.5,278.2 L497.9,278.2 L499.4,278.2 L500.8,278.2 L502.3,278.2 L503.7,278.2 L505.2,278.2 L506.6,278.2 L508.1,278.2 L509.5,278.2 L511.0,278.2 L512.5,278.2 L513.9,278.3 L515.4,278.2 L516.8,278.2 L518.3,278.2 L519.7,278.2 L521.2,278.2 L522.6,278.2 L524.1,278.2 L525.5,278.2 L527.0,278.3 L528.5,278.2 L529.9,278.2 L531.4,278.2 L532.8,278.2 L534.3,278.2 L535.7,278.1 L537.2,278.2 L538.6,278.2 L540.1,278.2" stroke="#8c8cff" stroke-width="3.0"/>
<path d="M400.3,278.2 L400.6,278.1 L401.0,278.0 L401.3,277.8 L401.6,277.6 L402.0,277.4 L402.3,277.2 L402.7,277.0 L403.0,276.7 L403.3,276.5 L403.7,276.3 L404.0,276.1 L404.3,276.0 L404.7,275.8 L405.0,275.6 L405.4,275.5 L405.7,275.3 L406.0,275.1 L406.4,274.9 L406.7,274.8 L407.1,274.6 L407.4,274.4 L407.7,274.2 L408.1,274.0 L408.4,273.8 L408.7,273.6 L409.1,273.4 L409.4,273.1 L409.8,272.9 L410.1,272.7 L410.4,272.4 L410.8,272.2 L411.1,271.9 L411.4,271.6 L411.8,271.4 L412.1,271.1 L412.5,270.8 L412.8,270.5 L413.1,270.2 L413.5,269.9 L413.8,269.7 L414.1,269.4 L414.5,269.1 L414.8,268.8 L415.2,268.5 L415.5,268.2 L415.8,267.9 L416.2,267.6 L416.5,267.3 L416.8,267.0 L417.2,266.7 L417.5,266.3 L417.9,266.0 L418.2,265.7 L418.5,265.4 L418.9,265.0 L419.2,264.7 L419.5,264.4 L419.9,264.1 L420.2,263.8 L420.6,263.5 L420.9,263.2 L421.2,262.9 L421.6,262.6 L421.9,262.3 L422.2,262.1 L422.6,261.8 L422.9,261.5 L423.3,261.3 L423.6,261.0 L423.9,260.7 L424.3,260.5 L424.6,260.2 L424.9,259.9 L425.3,259.6 L425.6,259.4 L426.0,259.1 L426.3,258.9 L426.6,258.6 L427.0,258.3 L427.3,258.1 L427.6,257.8 L428.0,257.6 L428.3,257.3 L428.7,257.0 L429.0,256.8 L429.3,256.5 L429.7,256.3 L430.0,256.0 L430.3,255.8 L430.7,255.6 L431.0,255.3 L431.4,255.1 L431.7,254.9 L432.0,254.7 L432.4,254.4 L432.7,254.2 L433.1,254.0 L433.4,253.8 L433.7,253.5 L434.1,253.3 L434.4,253.1 L434.7,252.9 L435.1,252.7 L435.4,252.4 L435.8,252.2 L436.1,252.0 L436.4,251.9 L436.8,251.7 L437.1,251.5 L437.4,251.3 L437.8,251.2 L438.1,251.1 L438.5,250.9 L438.8,250.8 L439.1,250.7 L439.5,250.6 L439.8,250.5 L440.1,250.4 L440.5,250.3 L440.8,250.2 L441.2,250.1 L441.5,250.0 L441.8,250.0 L442.2,249.9 L442.5,249.8 L442.8,249.7 L443.2,249.6 L443.5,249.6 L443.9,249.5 L444.2,249.4 L444.5,249.4 L444.9,249.3 L445.2,249.3 L445.5,249.3 L445.9,249.2 L446.2,249.2 L446.6,249.2 L446.9,249.2 L447.2,249.2 L447.6,249.2 L447.9,249.2 L448.2,249.2 L448.6,249.3 L448.9,249.3 L449.3,249.3 L449.6,249.4 L449.9,249.4 L450.3,249.5 L450.6,249.5 L450.9,249.6 L451.3,249.7 L451.6,249.7 L452.0,249.8 L452.3,249.9 L452.6,249.9 L453.0,250.0 L453.3,250.1 L453.6,250.2 L454.0,250.2 L454.3,250.3 L454.7,250.4 L455.0,250.5 L455.3,250.6 L455.7,250.7 L456.0,250.8 L456.4,251.0 L456.7,251.1 L457.0,251.2 L457.4,251.4 L457.7,251.6 L458.0,251.8 L458.4,251.9 L458.7,252.1 L459.1,252.3 L459.4,252.5 L459.7,252.8 L460.1,253.0 L460.4,253.3 L460.7,253.6 L461.1,253.9 L461.4,254.2 L461.8,254.5 L462.1,254.9 L462.4,255.2 L462.8,255.5 L463.1,255.9 L463.4,256.2 L463.8,256.5 L464.1,256.9 L464.5,257.2 L464.8,257.6 L465.1,257.9 L465.5,258.3 L465.8,258.6 L466.1,259.0 L466.5,259.3 L466.8,259.7 L467.2,260.0 L467.5,260.4 L467.8,260.7 L468.2,261.1 L468.5,261.4 L468.8,261.7 L469.2,262.1 L469.5,262.4 L469.9,262.7 L470.2,263.0 L470.5,263.3 L470.9,263.6 L471.2,263.9 L471.5,264.2 L471.9,264.5 L472.2,264.8 L472.6,265.1 L472.9,265.4 L473.2,265.7 L473.6,265.9 L473.9,266.2 L474.2,266.5 L474.6,266.8 L474.9,267.0 L475.3,267.3 L475.6,267.6 L475.9,267.8 L476.3,268.1 L476.6,268.3 L476.9,268.5 L477.3,268.8 L477.6,269.0 L478.0,269.2 L478.3,269.4 L478.6,269.6 L479.0,269.8 L479.3,270.0 L479.7,270.2 L480.0,270.4 L480.3,270.6 L480.7,270.8 L481.0,270.9 L481.3,271.1 L481.7,271.3 L482.0,271.5 L482.4,271.6 L482.7,271.8 L483.0,272.0 L483.4,272.1 L483.7,272.3 L484.0,272.4 L484.4,272.6 L484.7,272.7 L485.1,272.8 L485.4,273.0 L485.7,273.1 L486.1,273.2 L486.4,273.3 L486.7,273.5 L487.1,273.6 L487.4,273.7 L487.8,273.8 L488.1,273.9 L488.4,274.0 L488.8,274.1 L489.1,274.2 L489.4,274.3 L489.8,274.4 L490.1,274.5 L490.5,274.6 L490.8,274.7 L491.1,274.8 L491.5,274.9 L491.8,275.0 L492.1,275.1 L492.5,275.1 L492.8,275.2 L493.2,275.3 L493.5,275.4 L493.8,275.5 L494.2,275.6 L494.5,275.6 L494.8,275.7 L495.2,275.8 L495.5,275.9 L495.9,276.0 L496.2,276.0 L496.5,276.1 L496.9,276.2 L497.2,276.2 L497.5,276.3 L497.9,276.4 L498.2,276.6 L498.6,276.7 L498.9,276.8 L499.2,276.9 L499.6,277.0 L499.9,277.1 L500.2,277.2 L500.6,277.3 L500.9,277.4 L501.3,277.5" stroke="#ff8000" stroke-width="3.1" stroke-dasharray="8 3.2"/>
<path d="M136.2,278.2 L137.6,278.2 L138.9,278.1 L140.3,278.1 L141.6,278.0 L143.0,277.9 L144.3,277.8 L145.7,277.6 L147.0,277.5 L148.4,277.2 L149.7,277.0 L151.1,276.8 L152.4,276.5 L153.8,276.3 L155.1,276.1 L156.5,275.9 L157.8,275.7 L159.2,275.5 L160.5,275.2 L161.9,275.0 L163.2,274.7 L164.6,274.4 L166.0,274.1 L167.3,273.7 L168.7,273.3 L170.0,272.8 L171.4,272.2 L172.7,271.6 L174.1,271.0 L175.4,270.3 L176.8,269.7 L178.1,269.0 L179.5,268.3 L180.8,267.6 L182.2,266.8 L183.5,266.0 L184.9,265.0 L186.2,264.0 L187.6,262.9 L188.9,261.7 L190.3,260.6 L191.6,259.4 L193.0,258.2 L194.3,257.0 L195.7,255.7 L197.0,254.4 L198.4,252.9 L199.7,251.3 L201.1,249.6 L202.4,247.8 L203.8,245.9 L205.1,244.0 L206.5,242.0 L207.8,240.0 L209.2,238.0 L210.5,236.0 L211.9,233.8 L213.2,231.5 L214.6,229.0 L215.9,226.3 L217.3,223.4 L218.6,220.4 L220.0,217.4 L221.3,214.7 L222.7,212.1 L224.0,209.8 L225.4,207.5 L226.7,205.2 L228.1,202.9 L229.4,200.5 L230.8,197.9 L232.1,195.2 L233.5,192.4 L234.8,189.6 L236.2,186.9 L237.5,184.4 L238.9,182.1 L240.2,179.9 L241.6,177.7 L242.9,175.5 L244.3,173.2 L245.6,170.7 L247.0,168.0 L248.3,165.2 L249.7,162.3 L251.0,159.6 L252.4,157.1 L253.7,154.8 L255.1,152.6 L256.4,150.4 L257.8,148.5 L259.1,146.7 L260.5,145.2 L261.9,143.9 L263.2,142.8 L264.6,141.8 L265.9,140.9 L267.3,140.0 L268.6,139.1 L270.0,138.0 L271.3,136.9 L272.7,135.8 L274.0,135.0 L275.4,134.4 L276.7,134.2 L278.1,134.1 L279.4,134.0 L280.8,134.0 L282.1,133.9 L283.5,133.9 L284.8,134.0 L286.2,134.2 L287.5,134.7 L288.9,135.2 L290.2,135.7 L291.6,136.2 L292.9,136.7 L294.3,137.2 L295.6,137.7 L297.0,138.3 L298.3,139.0 L299.7,139.7 L301.0,140.5 L302.4,141.4 L303.7,142.4 L305.1,143.4 L306.4,144.5 L307.8,145.5 L309.1,146.7 L310.5,147.9 L311.8,149.1 L313.2,150.4 L314.5,151.7 L315.9,153.0 L317.2,154.4 L318.6,155.8 L319.9,157.3 L321.3,158.8 L322.6,160.3 L324.0,161.9 L325.3,163.6 L326.7,165.3 L328.0,167.0 L329.4,168.7 L330.7,170.4 L332.1,172.1 L333.4,173.7 L334.8,175.3 L336.1,176.9 L337.5,178.4 L338.8,179.9 L340.2,181.4 L341.5,182.8 L342.9,184.2 L344.2,185.6 L345.6,187.0 L346.9,188.3 L348.3,189.7 L349.6,191.0 L351.0,192.3 L352.3,193.6 L353.7,194.9 L355.0,196.2 L356.4,197.4 L357.8,198.7 L359.1,199.9 L360.5,201.2 L361.8,202.4 L363.2,203.6 L364.5,204.9 L365.9,206.1 L367.2,207.3 L368.6,208.5 L369.9,209.7 L371.3,210.9 L372.6,212.1 L374.0,213.2 L375.3,214.4 L376.7,215.5 L378.0,216.6 L379.4,217.7 L380.7,218.8 L382.1,219.8 L383.4,220.9 L384.8,222.0 L386.1,223.2 L387.5,224.4 L388.8,225.6 L390.2,226.8 L391.5,227.9 L392.9,228.7 L394.2,229.3 L395.6,229.9 L396.9,230.4 L398.3,230.9 L399.6,231.5 L401.0,232.2 L402.3,232.9 L403.7,233.8 L405.0,234.6 L406.4,235.5 L407.7,236.4 L409.1,237.2 L410.4,238.1 L411.8,238.9 L413.1,239.8 L414.5,240.6 L415.8,241.4 L417.2,242.2 L418.5,243.0 L419.9,243.7 L421.2,244.5 L422.6,245.2 L423.9,246.0 L425.3,246.8 L426.6,247.5 L428.0,248.3 L429.3,249.0 L430.7,249.8 L432.0,250.6 L433.4,251.4 L434.7,252.2 L436.1,253.0 L437.4,253.8 L438.8,254.6 L440.1,255.4 L441.5,256.1 L442.8,256.9 L444.2,257.6 L445.5,258.4 L446.9,259.1 L448.2,259.8 L449.6,260.5 L450.9,261.2 L452.3,261.9 L453.6,262.5 L455.0,263.2 L456.4,263.8 L457.7,264.4 L459.1,265.0 L460.4,265.6 L461.8,266.1 L463.1,266.7 L464.5,267.2 L465.8,267.6 L467.2,268.1 L468.5,268.6 L469.9,269.0 L471.2,269.4 L472.6,269.8 L473.9,270.3 L475.3,270.6 L476.6,271.0 L478.0,271.4 L479.3,271.8 L480.7,272.1 L482.0,272.4 L483.4,272.8 L484.7,273.1 L486.1,273.4 L487.4,273.7 L488.8,274.0 L490.1,274.2 L491.5,274.5 L492.8,274.7 L494.2,274.9 L495.5,275.1 L496.9,275.2 L498.2,275.3 L499.6,275.5 L500.9,275.6 L502.3,275.7 L503.6,275.8 L505.0,275.8 L506.3,275.9 L507.7,276.0 L509.0,276.1 L510.4,276.2 L511.7,276.5 L513.1,276.9 L514.4,277.2 L515.8,277.4 L517.1,277.5 L518.5,277.6 L519.8,277.6 L521.2,277.6 L522.5,277.6 L523.9,277.7 L525.2,277.7 L526.6,277.7 L527.9,277.7 L529.3,277.7 L530.6,277.7 L532.0,277.7 L533.3,277.7 L534.7,277.7 L536.0,277.7 L537.4,277.7 L538.7,277.7 L540.1,277.7" stroke="#000000" stroke-width="3.3" stroke-dasharray="8 3.2"/>
<path d="M105.2,273.2 L106.6,273.0 L108.1,272.8 L109.5,272.6 L111.0,272.4 L112.4,272.1 L113.9,271.8 L115.4,271.4 L116.8,271.0 L118.3,270.6 L119.7,270.2 L121.2,269.8 L122.6,269.4 L124.1,269.0 L125.5,268.6 L127.0,268.2 L128.4,267.8 L129.9,267.3 L131.4,266.8 L132.8,266.3 L134.3,265.7 L135.7,265.2 L137.2,264.7 L138.6,264.1 L140.1,263.6 L141.5,263.0 L143.0,262.4 L144.4,261.8 L145.9,261.2 L147.4,260.6 L148.8,259.9 L150.3,259.2 L151.7,258.5 L153.2,257.8 L154.6,257.0 L156.1,256.2 L157.5,255.3 L159.0,254.4 L160.4,253.4 L161.9,252.3 L163.4,251.2 L164.8,250.1 L166.3,248.8 L167.7,247.5 L169.2,246.1 L170.6,244.6 L172.1,242.9 L173.5,241.3 L175.0,239.6 L176.4,237.9 L177.9,236.1 L179.4,234.3 L180.8,232.5 L182.3,230.5 L183.7,228.4 L185.2,226.1 L186.6,223.7 L188.1,221.2 L189.5,218.8 L191.0,216.4 L192.4,214.0 L193.9,211.7 L195.4,209.3 L196.8,206.9 L198.3,204.5 L199.7,202.0 L201.2,199.4 L202.6,196.9 L204.1,194.3 L205.5,191.7 L207.0,189.2 L208.4,186.8 L209.9,184.3 L211.4,181.9 L212.8,179.5 L214.3,177.1 L215.7,174.8 L217.2,172.4 L218.6,170.1 L220.1,167.9 L221.5,165.8 L223.0,163.7 L224.4,161.6 L225.9,159.6 L227.4,157.8 L228.8,156.3 L230.3,155.2 L231.7,154.1 L233.2,153.2 L234.6,152.4 L236.1,151.8 L237.5,151.4 L239.0,151.1 L240.4,150.8 L241.9,150.5 L243.4,150.4 L244.8,150.3 L246.3,150.4 L247.7,150.8 L249.2,151.5 L250.6,152.2 L252.1,153.0 L253.5,153.9 L255.0,155.0 L256.4,156.3 L257.9,157.8 L259.4,159.5 L260.8,161.3 L262.3,163.4 L263.7,166.0 L265.2,168.7 L266.6,171.6 L268.1,174.5 L269.5,177.6 L271.0,181.1 L272.4,184.6 L273.9,188.0 L275.4,191.1 L276.8,193.6 L278.3,195.7 L279.7,197.5 L281.2,199.4 L282.6,201.2 L284.1,203.2 L285.5,205.3 L287.0,207.4 L288.4,209.6 L289.9,211.9 L291.4,214.3 L292.8,217.0 L294.3,220.0 L295.7,223.2 L297.2,226.3 L298.6,229.1 L300.1,231.7 L301.5,234.0 L303.0,236.3 L304.4,238.4 L305.9,240.4 L307.4,242.2 L308.8,243.9 L310.3,245.5 L311.7,247.0 L313.2,248.4 L314.6,249.7 L316.1,251.0 L317.5,252.2 L319.0,253.3 L320.5,254.4 L321.9,255.4 L323.4,256.4 L324.8,257.3 L326.3,258.2 L327.7,259.1 L329.2,259.9 L330.6,260.6 L332.1,261.3 L333.5,262.0 L335.0,262.7 L336.5,263.3 L337.9,263.9 L339.4,264.5 L340.8,265.0 L342.3,265.5 L343.7,266.0 L345.2,266.5 L346.6,266.9 L348.1,267.4 L349.5,267.8 L351.0,268.3 L352.5,268.7 L353.9,269.1 L355.4,269.4 L356.8,269.8 L358.3,270.1 L359.7,270.4 L361.2,270.7 L362.6,271.0 L364.1,271.3 L365.5,271.6 L367.0,271.9 L368.5,272.2 L369.9,272.4 L371.4,272.7 L372.8,272.9 L374.3,273.2 L375.7,273.4 L377.2,273.6 L378.6,273.8 L380.1,274.0 L381.5,274.2 L383.0,274.3 L384.5,274.5 L385.9,274.6 L387.4,274.8 L388.8,274.9 L390.3,275.1 L391.7,275.2 L393.2,275.4 L394.6,275.5 L396.1,275.6 L397.5,275.7 L399.0,275.8 L400.5,275.9 L401.9,276.0 L403.4,276.1 L404.8,276.2 L406.3,276.3 L407.7,276.4 L409.2,276.6 L410.6,276.7 L412.1,276.8 L413.5,276.9 L415.0,276.9 L416.5,277.0 L417.9,277.1 L419.4,277.1 L420.8,277.2 L422.3,277.3 L423.7,277.3 L425.2,277.4 L426.6,277.5 L428.1,277.6 L429.5,277.6 L431.0,277.7 L432.5,277.7 L433.9,277.7 L435.4,277.7 L436.8,277.7 L438.3,277.7 L439.7,277.7 L441.2,277.7 L442.6,277.7 L444.1,277.8 L445.5,277.8 L447.0,277.8 L448.5,277.8 L449.9,277.8 L451.4,277.8 L452.8,277.8 L454.3,277.8 L455.7,277.8 L457.2,277.9 L458.6,277.9 L460.1,278.0 L461.5,278.0 L463.0,278.0 L464.5,278.0 L465.9,278.0 L467.4,278.0 L468.8,278.0 L470.3,278.0 L471.7,278.0 L473.2,278.0 L474.6,278.1 L476.1,278.1 L477.5,278.1 L479.0,278.1 L480.5,278.1 L481.9,278.1 L483.4,278.1 L484.8,278.1 L486.3,278.1 L487.7,278.1 L489.2,278.1 L490.6,278.1 L492.1,278.1 L493.5,278.1 L495.0,278.1 L496.5,278.1 L497.9,278.1 L499.4,278.1 L500.8,278.1 L502.3,278.1 L503.7,278.1 L505.2,278.2 L506.6,278.2 L508.1,278.2 L509.5,278.2 L511.0,278.2 L512.5,278.2 L513.9,278.2 L515.4,278.2 L516.8,278.2 L518.3,278.2 L519.7,278.2 L521.2,278.2 L522.6,278.2 L524.1,278.2 L525.5,278.2 L527.0,278.2 L528.5,278.2 L529.9,278.2 L531.4,278.2 L532.8,278.2 L534.3,278.2 L535.7,278.2 L537.2,278.2 L538.6,278.2 L540.1,278.2" stroke="#00d800" stroke-width="3.1" stroke-dasharray="8 3.2"/>
</g>
<rect x="104.9" y="9.45" width="435.20000000000005" height="268.55" fill="none" stroke="#000" stroke-width="2.2"/>
<path d="M105.17,278.0 v-5.4 M105.17,9.45 v5.4 M120.70,278.0 v-3.3 M120.70,9.45 v3.3 M136.24,278.0 v-3.3 M136.24,9.45 v3.3 M151.77,278.0 v-3.3 M151.77,9.45 v3.3 M167.30,278.0 v-3.3 M167.30,9.45 v3.3 M182.84,278.0 v-5.4 M182.84,9.45 v5.4 M198.37,278.0 v-3.3 M198.37,9.45 v3.3 M213.90,278.0 v-3.3 M213.90,9.45 v3.3 M229.43,278.0 v-3.3 M229.43,9.45 v3.3 M244.97,278.0 v-3.3 M244.97,9.45 v3.3 M260.50,278.0 v-5.4 M260.50,9.45 v5.4 M276.03,278.0 v-3.3 M276.03,9.45 v3.3 M291.57,278.0 v-3.3 M291.57,9.45 v3.3 M307.10,278.0 v-3.3 M307.10,9.45 v3.3 M322.63,278.0 v-3.3 M322.63,9.45 v3.3 M338.16,278.0 v-5.4 M338.16,9.45 v5.4 M353.70,278.0 v-3.3 M353.70,9.45 v3.3 M369.23,278.0 v-3.3 M369.23,9.45 v3.3 M384.76,278.0 v-3.3 M384.76,9.45 v3.3 M400.30,278.0 v-3.3 M400.30,9.45 v3.3 M415.83,278.0 v-5.4 M415.83,9.45 v5.4 M431.36,278.0 v-3.3 M431.36,9.45 v3.3 M446.90,278.0 v-3.3 M446.90,9.45 v3.3 M462.43,278.0 v-3.3 M462.43,9.45 v3.3 M477.96,278.0 v-3.3 M477.96,9.45 v3.3 M493.50,278.0 v-5.4 M493.50,9.45 v5.4 M509.03,278.0 v-3.3 M509.03,9.45 v3.3 M524.56,278.0 v-3.3 M524.56,9.45 v3.3 M540.09,278.0 v-3.3 M540.09,9.45 v3.3 M104.9,278.25 h5.4 M540.1,278.25 h-5.4 M104.9,266.04 h3.3 M540.1,266.04 h-3.3 M104.9,253.82 h3.3 M540.1,253.82 h-3.3 M104.9,241.61 h3.3 M540.1,241.61 h-3.3 M104.9,229.40 h5.4 M540.1,229.40 h-5.4 M104.9,217.19 h3.3 M540.1,217.19 h-3.3 M104.9,204.97 h3.3 M540.1,204.97 h-3.3 M104.9,192.76 h3.3 M540.1,192.76 h-3.3 M104.9,180.55 h5.4 M540.1,180.55 h-5.4 M104.9,168.34 h3.3 M540.1,168.34 h-3.3 M104.9,156.12 h3.3 M540.1,156.12 h-3.3 M104.9,143.91 h3.3 M540.1,143.91 h-3.3 M104.9,131.70 h5.4 M540.1,131.70 h-5.4 M104.9,119.49 h3.3 M540.1,119.49 h-3.3 M104.9,107.28 h3.3 M540.1,107.28 h-3.3 M104.9,95.06 h3.3 M540.1,95.06 h-3.3 M104.9,82.85 h5.4 M540.1,82.85 h-5.4 M104.9,70.64 h3.3 M540.1,70.64 h-3.3 M104.9,58.42 h3.3 M540.1,58.42 h-3.3 M104.9,46.21 h3.3 M540.1,46.21 h-3.3 M104.9,34.00 h5.4 M540.1,34.00 h-5.4 M104.9,21.79 h3.3 M540.1,21.79 h-3.3" stroke="#000" stroke-width="2.2" fill="none"/>
<g font-family="'Liberation Serif', serif" font-size="21.3" fill="#000">
<text x="105.2" y="305.3" text-anchor="middle">−1000</text>
<text x="182.8" y="305.3" text-anchor="middle">−500</text>
<text x="260.5" y="305.3" text-anchor="middle">0</text>
<text x="338.2" y="305.3" text-anchor="middle">500</text>
<text x="415.8" y="305.3" text-anchor="middle">1000</text>
<text x="493.5" y="305.3" text-anchor="middle">1500</text>
</g>
<g font-family="'Liberation Serif', serif" font-size="20.5" fill="#000">
<text x="100.6" y="287.6" text-anchor="end">0.0000</text>
<text x="100.6" y="238.8" text-anchor="end">0.0002</text>
<text x="100.6" y="190.0" text-anchor="end">0.0004</text>
<text x="100.6" y="141.1" text-anchor="end">0.0006</text>
<text x="100.6" y="92.2" text-anchor="end">0.0008</text>
<text x="100.6" y="43.4" text-anchor="end">0.0010</text>
</g>
<g fill="#1a1a1a"><rect x="119.9" y="22.0" width="1.65" height="23.3"/><path d="M117.6,22.5 L119.9,21.7 L119.9,22.9 L117.6,23.3 Z"/><clipPath id="bb"><rect x="121.2" y="28" width="14" height="20"/></clipPath><path clip-path="url(#bb)" fill-rule="evenodd" d="M119.6,37.9 a6.7,7.9 0 1,0 13.4,0 a6.7,7.9 0 1,0 -13.4,0 Z M120.6,37.9 a4.95,6.95 0 1,0 9.9,0 a4.95,6.95 0 1,0 -9.9,0 Z"/></g>
<text x="372.8" y="45" font-family="'Liberation Serif', serif" font-size="24.3" fill="#000">Ge, simulation</text>
<g font-family="'Liberation Serif', serif" fill="#000"><text transform="translate(275.4,346.6) scale(1,0.92)" font-size="24.5" font-style="italic">θ</text><text x="286.2" y="350.9" font-size="17.5" font-style="italic">X</text><text x="304.7" y="346.3" font-size="24.2">(mrad)</text></g>
<g transform="translate(27.6,247) rotate(-90)" font-family="'Liberation Serif', serif" fill="#000"><text x="0" y="0" font-size="24.5">1/N dN/d</text><text transform="translate(91.9,0.3) scale(1,0.92)" font-size="24.5" font-style="italic">θ</text><text x="102.7" y="4.6" font-size="17.5" font-style="italic">X</text><text x="121.1" y="0" font-size="24.5">(mrad<tspan font-size="17.5" dy="-9.2">−1</tspan><tspan dy="9.2">)</tspan></text></g>
<rect x="558.7" y="5.1" width="327.6" height="349.7" rx="9" ry="9" fill="#fff" stroke="#000" stroke-width="2.3"/>
<g font-family="'Liberation Serif', serif" font-size="22.65" fill="#000">
<line x1="567.5" y1="24.0" x2="597.8" y2="24.0" stroke="#ff0000" stroke-width="3"/>
<text x="610.4" y="31.9">Total</text>
<line x1="567.5" y1="66.0" x2="597.8" y2="66.0" stroke="#ff8000" stroke-width="3"/>
<text x="610.4" y="73.8">channeling</text>
<line x1="567.5" y1="108.2" x2="597.8" y2="108.2" stroke="#a8a800" stroke-width="3"/>
<text x="610.4" y="116.0">dechanneling+rechanneling</text>
<line x1="567.5" y1="160.5" x2="597.8" y2="160.5" stroke="#000000" stroke-width="3"/>
<text x="610.4" y="168.3">dechanneling+rechanneling+</text>
<text x="610.4" y="210.4">captured overbarrier</text>
<line x1="567.5" y1="244.6" x2="597.8" y2="244.6" stroke="#00d800" stroke-width="3"/>
<text x="610.4" y="252.4">VR/overbarrier</text>
<line x1="567.5" y1="286.6" x2="597.8" y2="286.6" stroke="#0000f0" stroke-width="3"/>
<text x="610.4" y="294.5">captured overbarrier</text>
<line x1="567.5" y1="328.6" x2="597.8" y2="328.6" stroke="#8c8cff" stroke-width="3"/>
<text x="610.4" y="336.5">twice captured overbarrier</text>
</g>
</svg>
</body></html>
